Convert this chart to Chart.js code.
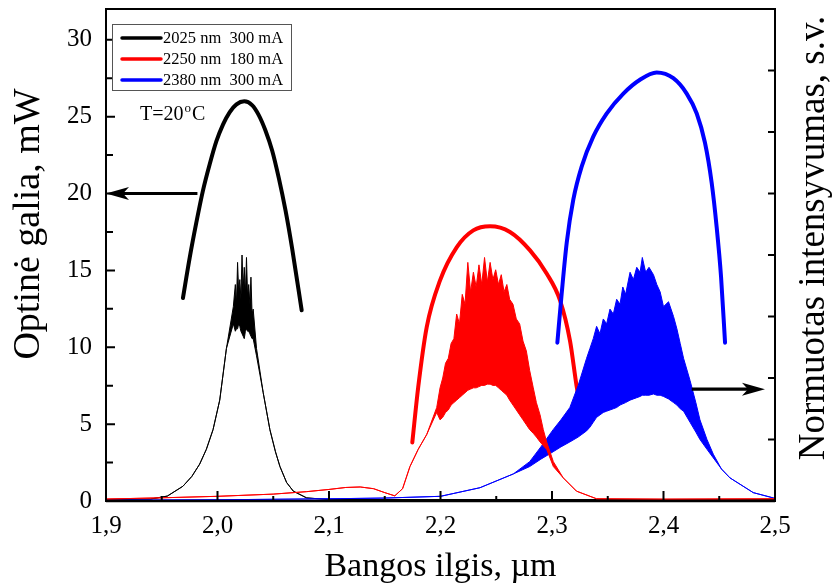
<!DOCTYPE html>
<html>
<head>
<meta charset="utf-8">
<script src="https://cdn.jsdelivr.net/npm/chart.js@4.4.0/dist/chart.umd.min.js"></script>
<style>
  html, body { margin: 0; padding: 0; background: #fff; }
  #wrap { width: 833px; height: 588px; }
</style>
</head>
<body>
<div id="wrap"><canvas id="chart"></canvas></div>
<script>
/* ================================================
   DATA
================================================ */
// Optical power vs wavelength (left axis, mW)
const pBlackX = [1.969, 1.975, 1.981, 1.987, 1.993, 1.999, 2.005, 2.011, 2.017, 2.024, 2.031, 2.037, 2.043, 2.049, 2.055, 2.061, 2.067, 2.0755];
const pBlackY = [13.2, 15.8, 18.1, 20.2, 21.9, 23.4, 24.5, 25.3, 25.8, 26.0, 25.75, 25.1, 24.1, 22.8, 21.0, 18.9, 16.4, 12.4];

const pRedX = [2.1747, 2.180, 2.1876, 2.1996, 2.2145, 2.2294, 2.2444, 2.2623, 2.2803, 2.2952, 2.3072, 2.3162, 2.322, 2.325];
const pRedY = [3.8, 7.4, 11.3, 14.35, 16.5, 17.6, 17.87, 17.5, 16.3, 14.8, 13.05, 10.4, 7.5, 6.3];

const pBlueX = [2.3048, 2.3087, 2.3132, 2.3191, 2.3266, 2.337, 2.349, 2.364, 2.3789, 2.3939, 2.4088, 2.4208, 2.4298, 2.4372, 2.4432, 2.4477, 2.4516, 2.4552];
const pBlueY = [10.3, 13.5, 16.8, 19.6, 21.75, 23.7, 25.2, 26.5, 27.4, 27.87, 27.5, 26.5, 25.2, 23.3, 20.7, 17.8, 14.6, 10.3];

// Normalized spectra (right axis): upper / lower envelope of the fringes
const sBlackX  = [1.900, 1.940, 1.955, 1.969, 1.977, 1.984, 1.990, 1.996, 2.002, 2.008, 2.0142, 2.016, 2.017, 2.018, 2.019, 2.020, 2.021, 2.022, 2.023, 2.024, 2.025, 2.026, 2.027, 2.028, 2.029, 2.030, 2.031, 2.032, 2.035, 2.041, 2.047, 2.052, 2.056, 2.062, 2.068, 2.080, 2.100, 2.200, 2.300, 2.400, 2.500];
const sBlackHi = [0.006, 0.008, 0.02, 0.06, 0.10, 0.15, 0.21, 0.29, 0.41, 0.62, 0.79, 0.88, 0.80, 0.97, 0.85, 0.90, 0.82, 1.00, 0.86, 0.95, 0.84, 0.99, 0.83, 0.88, 0.80, 0.91, 0.76, 0.78, 0.62, 0.44, 0.29, 0.20, 0.14, 0.075, 0.04, 0.0125, 0.006, 0.006, 0.006, 0.006, 0.006];
const sBlackLo = [0.006, 0.008, 0.02, 0.06, 0.10, 0.15, 0.21, 0.29, 0.41, 0.62, 0.72, 0.69, 0.70, 0.70, 0.72, 0.71, 0.69, 0.68, 0.67, 0.66, 0.69, 0.70, 0.69, 0.69, 0.68, 0.67, 0.66, 0.66, 0.59, 0.44, 0.29, 0.20, 0.14, 0.075, 0.04, 0.0125, 0.006, 0.006, 0.006, 0.006, 0.006];

const sRedX  = [1.900, 1.950, 2.000, 2.050, 2.080, 2.100, 2.115, 2.128, 2.140, 2.150, 2.159, 2.166, 2.1726, 2.180, 2.1876,
                2.1966, 2.1996, 2.202, 2.2045, 2.207, 2.2095, 2.212, 2.2145, 2.217, 2.2195, 2.222, 2.2245, 2.227, 2.2295, 2.232, 2.2345,
                2.237, 2.2395, 2.242, 2.2445, 2.247, 2.2495, 2.252, 2.2545, 2.257, 2.2595, 2.262, 2.265, 2.268, 2.271, 2.274, 2.277,
                2.280, 2.2832, 2.286, 2.2893, 2.2922, 2.2952, 2.3012, 2.3101, 2.322, 2.340, 2.400, 2.500];
const sRedHi = [0.008, 0.013, 0.019, 0.028, 0.038, 0.047, 0.055, 0.057, 0.05, 0.034, 0.021, 0.05, 0.14, 0.21, 0.27,
                0.38, 0.46, 0.50, 0.56, 0.58, 0.64, 0.66, 0.76, 0.72, 0.84, 0.80, 0.97, 0.85, 0.93, 0.87, 0.96,
                0.88, 0.99, 0.89, 0.97, 0.90, 0.94, 0.88, 0.92, 0.85, 0.88, 0.82, 0.80, 0.74, 0.72, 0.65, 0.61,
                0.53, 0.46, 0.40, 0.35, 0.29, 0.24, 0.16, 0.094, 0.04, 0.009, 0.0075, 0.009];
const sRedLo = [0.008, 0.013, 0.019, 0.028, 0.038, 0.047, 0.055, 0.057, 0.05, 0.034, 0.021, 0.05, 0.14, 0.21, 0.27,
                0.36, 0.33, 0.34, 0.36, 0.37, 0.39, 0.40, 0.41, 0.42, 0.43, 0.44, 0.45, 0.455, 0.46, 0.46, 0.465,
                0.47, 0.47, 0.475, 0.475, 0.47, 0.47, 0.46, 0.45, 0.44, 0.43, 0.41, 0.39, 0.37, 0.35, 0.33, 0.31,
                0.29, 0.275, 0.26, 0.24, 0.225, 0.21, 0.14, 0.094, 0.04, 0.009, 0.0075, 0.009];

const sBlueX  = [1.900, 2.000, 2.100, 2.150, 2.200, 2.2354, 2.2653, 2.280, 2.290, 2.301, 2.308, 2.316, 2.3235, 2.331, 2.334,
                 2.337, 2.340, 2.343, 2.346, 2.349, 2.352, 2.355, 2.358, 2.361, 2.3635, 2.366, 2.370, 2.373, 2.376, 2.379,
                 2.381, 2.384, 2.387, 2.391, 2.394, 2.397, 2.400, 2.4045, 2.409, 2.412, 2.415, 2.418, 2.4238, 2.429, 2.4327,
                 2.439, 2.4447, 2.452, 2.4596, 2.4805, 2.4985, 2.500];
const sBlueHi = [0.003, 0.005, 0.009, 0.012, 0.019, 0.054, 0.11, 0.16, 0.22, 0.29, 0.33, 0.38, 0.47, 0.58, 0.62,
                 0.66, 0.71, 0.68, 0.74, 0.72, 0.78, 0.76, 0.82, 0.80, 0.87, 0.84, 0.93, 0.90, 0.95, 0.93,
                 0.99, 0.93, 0.95, 0.92, 0.88, 0.85, 0.79, 0.81, 0.75, 0.70, 0.64, 0.58, 0.49, 0.40, 0.33,
                 0.25, 0.19, 0.13, 0.094, 0.034, 0.0125, 0.0125];
const sBlueLo = [0.003, 0.005, 0.009, 0.012, 0.019, 0.054, 0.11, 0.14, 0.17, 0.20, 0.22, 0.24, 0.26, 0.285, 0.30,
                 0.32, 0.34, 0.35, 0.36, 0.365, 0.37, 0.375, 0.38, 0.39, 0.395, 0.40, 0.41, 0.415, 0.42, 0.425,
                 0.43, 0.43, 0.43, 0.435, 0.43, 0.43, 0.425, 0.415, 0.40, 0.39, 0.375, 0.365, 0.32, 0.28, 0.25,
                 0.21, 0.175, 0.13, 0.094, 0.034, 0.0125, 0.0125];

const legendLabels = ['2025 nm  300 mA', '2250 nm  180 mA', '2380 nm  300 mA'];
const seriesColors = ['#000000', '#ff0000', '#0000ff'];

// Annotation arrows: [x0, y0, x1 (tip), y1] in data units
const arrowLeft  = [1.982, 20, 1.9, 20];
const arrowRight = [2.4253, 7.27, 2.491, 7.27];

const SERIF = "'Liberation Serif', 'Times New Roman', serif";

/* ================================================
   HELPERS
================================================ */
const pts = (xs, ys) => xs.map((x, i) => ({ x, y: ys[i] }));

function powerSet(xs, ys, color, order) {
  return {
    data: pts(xs, ys), yAxisID: 'y', order,
    borderColor: color, borderWidth: 4, borderCapStyle: 'round',
    cubicInterpolationMode: 'monotone', pointRadius: 0, fill: false,
  };
}
function specSets(xs, hi, lo, color, order) {
  return [
    { data: pts(xs, hi), yAxisID: 'y2', order, borderColor: color, borderWidth: 1,
      tension: 0, pointRadius: 0, fill: false },
    { data: pts(xs, lo), yAxisID: 'y2', order: order + 0.1, borderColor: color, borderWidth: 1,
      tension: 0, pointRadius: 0, fill: '-1', backgroundColor: color },
  ];
}

/* ================================================
   PLUGINS
================================================ */
const framePlugin = {
  id: 'frame',
  afterDatasetsDraw(chart) {
    const { ctx, chartArea: a, scales } = chart;
    ctx.save();
    ctx.strokeStyle = '#000';
    ctx.lineWidth = 2;
    ctx.strokeRect(a.left, a.top, a.right - a.left, a.bottom - a.top);
    ctx.lineWidth = 2.5;
    ctx.beginPath(); ctx.moveTo(a.left, a.bottom); ctx.lineTo(a.right, a.bottom); ctx.stroke();

    ctx.lineWidth = 2;
    ctx.beginPath();
    for (let k = 0; k <= 12; k++) {
      const px = scales.x.getPixelForValue(1.9 + k * 0.05);
      const len = k % 2 === 0 ? 10 : 5;
      ctx.moveTo(px, a.bottom); ctx.lineTo(px, a.bottom - len);
    }
    for (let k = 1; k <= 12; k++) {
      const py = scales.y.getPixelForValue(k * 2.5);
      ctx.moveTo(a.left, py); ctx.lineTo(a.left + (k % 2 === 0 ? 9 : 7), py);
    }
    for (let k = 1; k <= 7; k++) {
      const py = scales.y2.getPixelForValue(k * 0.25);
      ctx.moveTo(a.right, py); ctx.lineTo(a.right - 7, py);
    }
    ctx.stroke();
    ctx.restore();
  },
};

function drawArrow(ctx, sx, sy, x0, y0, x1, y1) {
  const ax = sx.getPixelForValue(x0), ay = sy.getPixelForValue(y0);
  const bx = sx.getPixelForValue(x1), by = sy.getPixelForValue(y1);
  const dir = Math.sign(bx - ax);
  ctx.beginPath();
  ctx.moveTo(ax, ay); ctx.lineTo(bx - dir * 12, by);
  ctx.stroke();
  ctx.beginPath();
  ctx.moveTo(bx, by);
  ctx.lineTo(bx - dir * 23, by - 6.5);
  ctx.lineTo(bx - dir * 17, by);
  ctx.lineTo(bx - dir * 23, by + 6.5);
  ctx.closePath();
  ctx.fill();
}

function vText(ctx, text, x, y, size) {
  ctx.save();
  ctx.translate(x, y);
  ctx.rotate(-Math.PI / 2);
  ctx.font = size + 'px ' + SERIF;
  ctx.textAlign = 'center';
  ctx.textBaseline = 'middle';
  ctx.fillStyle = '#000';
  ctx.fillText(text, 0, 0);
  ctx.restore();
}

const annotPlugin = {
  id: 'annot',
  afterDraw(chart) {
    const { ctx, chartArea: a, scales } = chart;
    ctx.save();
    // axis titles (both read bottom-to-top)
    vText(ctx, 'Optinė galia, mW', 29, 224, 38);
    vText(ctx, 'Normuotas intensyvumas, s.v.', 814, 238, 37);

    // arrows
    ctx.strokeStyle = '#000'; ctx.fillStyle = '#000'; ctx.lineWidth = 3.2;
    drawArrow(ctx, scales.x, scales.y, ...arrowLeft);
    drawArrow(ctx, scales.x, scales.y, ...arrowRight);

    // legend box
    const bx = a.left + 6, by = a.top + 15;
    ctx.fillStyle = '#fff';
    ctx.fillRect(bx, by, 179, 66);
    ctx.strokeStyle = '#555'; ctx.lineWidth = 1;
    ctx.strokeRect(bx + 0.5, by + 0.5, 179, 66);
    ctx.font = '16.5px ' + SERIF;
    ctx.textBaseline = 'middle';
    legendLabels.forEach((lab, i) => {
      const yy = by + 14 + i * 21;
      ctx.strokeStyle = seriesColors[i]; ctx.lineWidth = 3.5; ctx.lineCap = 'round';
      ctx.beginPath(); ctx.moveTo(bx + 10, yy); ctx.lineTo(bx + 49, yy); ctx.stroke();
      ctx.fillStyle = '#000';
      ctx.fillText(lab, bx + 51, yy + 1);
    });

    // temperature note
    ctx.textBaseline = 'alphabetic';
    ctx.font = '20px ' + SERIF;
    let tx = a.left + 34; const ty = a.top + 111;
    ctx.fillText('T=20', tx, ty);
    tx += ctx.measureText('T=20').width + 1;
    ctx.font = '13px ' + SERIF;
    ctx.fillText('o', tx, ty - 8);
    tx += ctx.measureText('o').width + 1;
    ctx.font = '20px ' + SERIF;
    ctx.fillText('C', tx, ty);
    ctx.restore();
  },
};

/* ================================================
   CHART
================================================ */
const datasets = [
  powerSet(pBlueX, pBlueY, seriesColors[2], 1),
  powerSet(pBlackX, pBlackY, seriesColors[0], 2),
  ...specSets(sRedX, sRedHi, sRedLo, seriesColors[1], 3),
  ...specSets(sBlueX, sBlueHi, sBlueLo, seriesColors[2], 4),
  powerSet(pRedX, pRedY, seriesColors[1], 5),
  ...specSets(sBlackX, sBlackHi, sBlackLo, seriesColors[0], 6),
];

const tickFont = { family: SERIF, size: 25 };
const noPad = s => { s.paddingTop = 0; s.paddingBottom = 0; s.paddingLeft = 0; s.paddingRight = 0; };

new Chart(document.getElementById('chart'), {
  type: 'line',
  data: { datasets },
  options: {
    responsive: true,
    maintainAspectRatio: false,
    animation: false,
    devicePixelRatio: 1,
    layout: { padding: { top: 9, left: 0, right: 0, bottom: 0 } },
    plugins: { legend: { display: false }, tooltip: { enabled: false } },
    scales: {
      x: {
        type: 'linear', min: 1.9, max: 2.5,
        grid: { display: false, drawTicks: false },
        border: { display: false },
        ticks: {
          stepSize: 0.1, color: '#000', font: tickFont, padding: 10, maxRotation: 0,
          callback: v => v.toFixed(1).replace('.', ','),
        },
        title: { display: true, text: 'Bangos ilgis, µm', color: '#000',
                 font: { family: SERIF, size: 34 }, padding: { top: 0, bottom: 1 } },
        afterFit: s => { noPad(s); s.height = 87; },
      },
      y: {
        position: 'left', min: 0, max: 32,
        grid: { display: false, drawTicks: false },
        border: { display: false },
        ticks: { stepSize: 5, includeBounds: false, color: '#000', font: tickFont, padding: 14 },
        afterFit: s => { noPad(s); s.width = 106; },
      },
      y2: {
        position: 'right', min: 0, max: 2,
        grid: { display: false, drawTicks: false },
        border: { display: false },
        ticks: { display: false },
        afterFit: s => { noPad(s); s.width = 58; },
      },
    },
  },
  plugins: [framePlugin, annotPlugin],
});
</script>
</body>
</html>
